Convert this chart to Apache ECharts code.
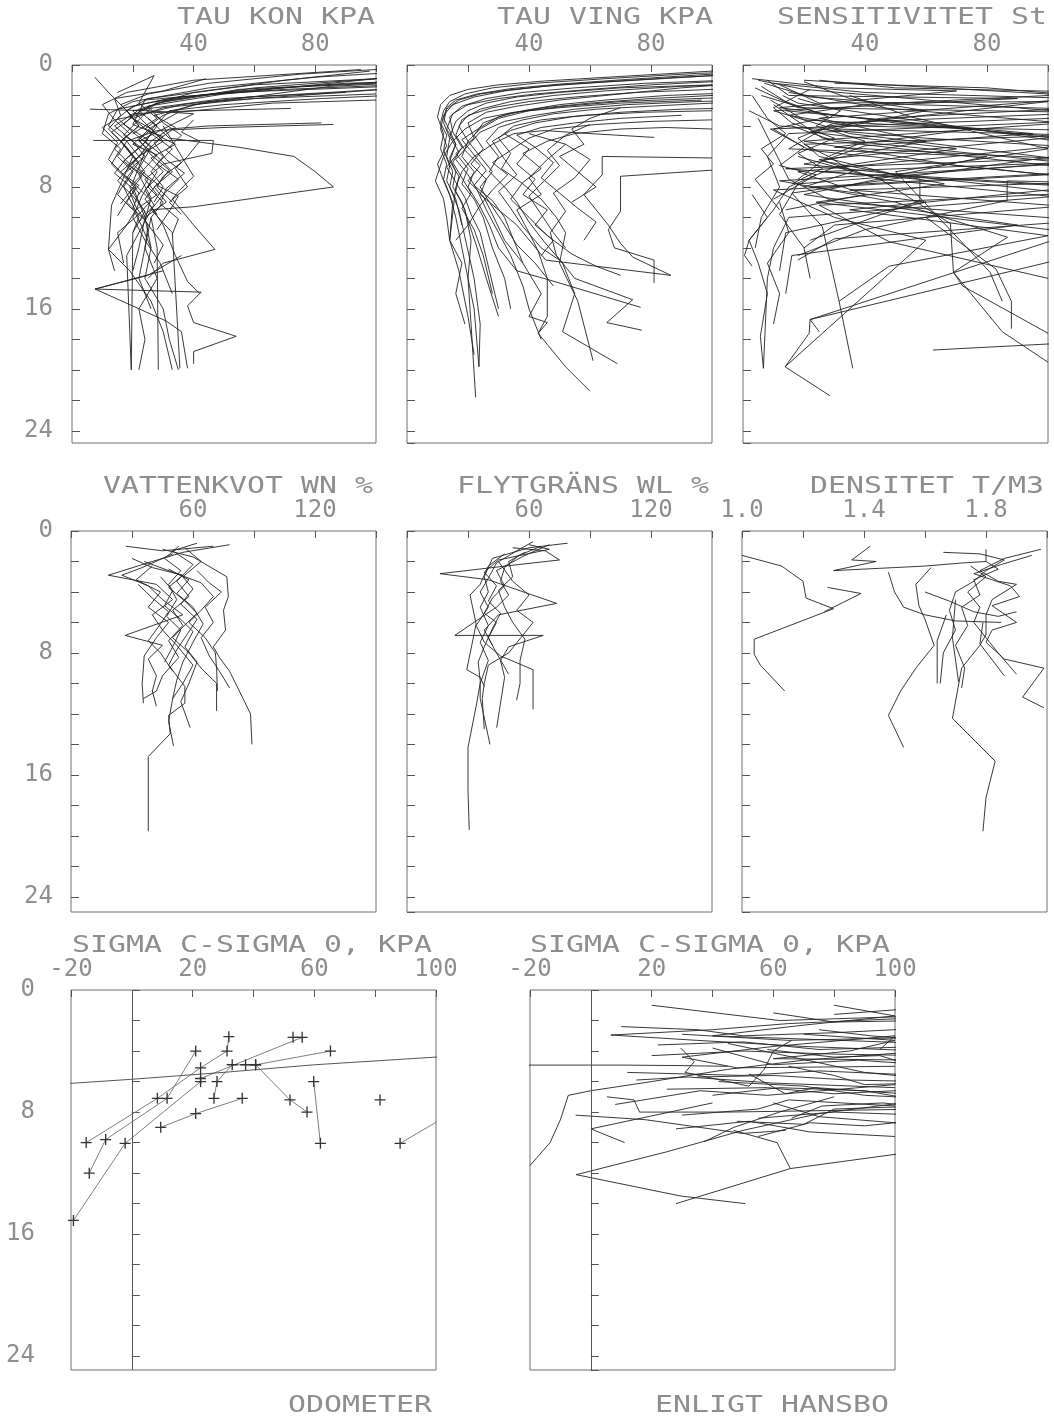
<!DOCTYPE html>
<html><head><meta charset="utf-8">
<script src="https://cdn.jsdelivr.net/npm/echarts@6/dist/echarts.min.js"></script>
<style>html,body{margin:0;padding:0;background:#fff}#c{width:1054px;height:1425px}</style>
</head><body><div id="c"></div>
<script>
// Each profile: flat list x,depth,x,depth,...
const tauKon = [
 [130,0.6, 60,1.3, 25,2.2, 18,3, 22,4, 16,5, 20,6, 24,7, 19,8, 22,9, 25,10],
 [125,0.9, 55,1.6, 30,2.4, 22,3, 28,4, 24,5, 30,6, 26,7, 30,8, 27,9],
 [120,1.2, 70,1.6, 35,2.1, 15,2.9, 12,4, 18,5, 15,6, 20,7, 17,8, 22,10, 20,11, 19.5,20],
 [110,1.5, 50,2.2, 20,3.0, 25,4.0, 30,5, 22,6, 28,7, 25,8, 30,9, 26,10, 28,12, 28.4,20],
 [105,0.5, 80,0.8, 45,1.5, 20,2.4, 12,3.2, 10,4.5, 16,5.5, 13,6.5, 18,7.5, 15,8.5, 20,9.5],
 [100,1.9, 60,2.2, 30,2.8, 20,3.5, 26,4.5, 33,5.5, 28,6.5, 35,7.5, 30,8.5, 26,9.5, 33,11, 35.5,19.9],
 [72,2.85, 40,3.0, 20,3.2, 14,4, 20,5, 24,6, 18,7],
 [86,3.9, 50,4.1, 28,4.3, 18,5, 22,6, 16,7, 21,8, 18,9, 23,10],
 [82,3.8, 45,4.0, 32,4.2, 26,5, 20,6.5, 25,7.5, 22,8.5],
 [7.5,0.8, 12,1.8, 18,3, 22,4, 16,5, 20,6],
 [15,1.8, 27,0.7, 22,2.5, 28,3.5, 20,4.5],
 [5.9,2.9, 25,3.0, 40,3.2, 32,4.0, 22,5, 28,6, 33,7, 27,8, 31,9, 24,10, 22,12, 20,13.5],
 [7,4.95, 46.5,4.95, 46,5.8, 30,6.5, 24,7.5, 28,8.5, 21,9.5, 18,10.5, 12,12.1, 14,13.5],
 [25,3.5, 32,4.8, 55,5.4, 73,6.0, 80,7.0, 86,8.0, 40,9.3, 26,9.5, 22,11, 18,12.5, 19.5,20],
 [30,4, 40,7.3, 35,8.3, 33,8.8, 40,10.5, 47,12.1, 30,13, 25,14],
 [20,6, 13,9.2, 12,12.1, 19,13.5, 26,15.5, 30,17.5, 33,20],
 [36,12.5, 25,13.8, 7.6,14.7, 42.5,14.9, 38,15.8, 40,16.9, 54,17.8, 40,18.8, 40,19.6],
 [30,13.5, 7.6,14.7, 31,16.8, 36,17.5, 38,19.9],
 [26,10, 24,12, 28,14, 22,16, 24,18, 22,20],
 [95,0.3, 40,1.0, 18,1.8, 10,2.6, 14,3.6, 19,4.5, 14,5.5, 19,6.5],
 [100,0.9, 50,1.9, 25,2.7, 30,3.8, 36,4.6, 31,5.6, 36,6.4, 30,7.3, 28,8, 33,9],
 [115,1.1, 85,1.4, 40,2.6, 30,3.3, 24,4.2, 34,5.2, 26,6.1, 30,7, 24,8.2, 27,9.2, 22,10.3],
 [100,2.3, 66,2.5, 35,3.1, 26,4.1, 20,5.2, 28,5.9, 22,7.2, 26,8.7, 24,10.2, 30,11.8, 27,13],
 [98,0.4, 70,1.0, 40,1.8, 22,2.9, 17,3.9, 25,4.9, 18,6.1, 14,7.1, 20,8.1, 16,9.1],
 [113,0.7, 60,1.5, 28,2.5, 19,3.4, 27,4.3, 23,5.3, 17,6.3, 23,7.3, 19,8.3, 21,9.3, 25,10.5, 24,12, 22,14, 26,16],
 [102,1.6, 75,2.0, 45,2.4, 27,3.3, 34,4.1, 27,5.1, 31,6.2, 37,7.1, 31,8.1, 29,9.1, 35,10.1, 33,11.1],
 [44,0.9, 30,1.7, 14,2.2, 16,3.3, 12,4.2, 17,5.2, 21,6.2, 15,7.6, 20,8.6, 24,9.6, 20,11],
 [118,1.3, 52,1.8, 24,2.3, 20,3.9, 30,4.7, 24,5.7, 20,7.7, 26,8.9, 22,9.8, 15,11, 17,13],
 [20,8, 24,10, 26,12, 24,14, 30,16, 32,18, 35,20],
 [25,9, 30,10.5, 34,12.5, 38,14.2, 42,15],
 [108,0.2, 75,0.6, 45,1.2, 25,1.9, 16,2.6, 20,3.4, 13,4.4, 18,5.4, 22,6.4, 18,7.4, 22,8.4, 20,9.4, 23,10.6, 26,12],
 [122,1.0, 90,1.2, 55,1.7, 32,2.2, 20,2.7, 15,3.5, 20,4.4, 26,5.4, 22,6.8, 28,7.8, 24,8.8, 28,9.8],
 [100,1.2, 68,1.5, 42,2.0, 28,2.4, 22,3.6, 17,4.6, 24,5.6, 19,6.6, 26,7.6, 23,8.6, 20,10, 24,11.5, 29,13, 33,15],
 [104,2.0, 82,2.2, 50,2.6, 32,3.0, 28,3.9, 22,4.9, 26,5.9, 32,6.9, 28,7.9, 35,8.6, 32,9.6, 28,10.8],
 [90,1.8, 58,2.1, 36,2.6, 24,3.2, 14,3.6, 10,4.1, 15,5.1, 12,6.2, 17,7.2, 22,7.9, 18,8.9, 15,9.9],
 [40,3.6, 36,4.4, 42,5.0, 38,6.0, 34,6.8, 38,8.0, 32,9.0, 36,9.8]
];
const tauVing = [
 [140,0.2, 100,0.4, 70,0.75, 45,1.05, 30,1.3, 20,1.6, 14,2.0, 11,2.6, 10,3.4, 12,4.5, 11,5.5, 13,6.5, 12,7.5, 14,8.5, 16,10, 18,12, 20,14, 22,16, 23.6,19.8],
 [140,0.5, 100,0.7, 75,1.0, 50,1.3, 35,1.6, 24,1.9, 17,2.3, 13,2.9, 12,3.8, 14,4.8, 13,6, 15,7, 14,8, 17,9.5, 19,11.3, 22,14, 24,17, 23.6,19.8],
 [140,0.9, 100,1.1, 80,1.3, 60,1.6, 42,1.9, 30,2.2, 20,2.6, 15,3.2, 13,4.2, 16,5.2, 14,6.3, 17,7.3, 16,8.3, 19,9.5, 21,11.5, 20,14, 21,17, 22.5,21.8],
 [130,1.4, 100,1.6, 75,1.8, 55,2.1, 40,2.4, 28,2.8, 20,3.3, 17,4.0, 20,5, 18,6, 22,7, 20,8, 24,9.3, 27,10.5, 30,12, 36,13.5, 46.6,14.1, 76.6,15.9],
 [130,1.8, 100,2.0, 80,2.2, 60,2.5, 45,2.8, 33,3.2, 25,3.8, 22,4.6, 25,5.5, 21,6.5, 26,7.5, 24,8.5, 30,9.5, 36,10.5, 45.5,12.8, 86.5,13.8],
 [120,2.4, 100,2.5, 80,2.7, 62,2.9, 48,3.2, 38,3.6, 30,4.1, 26,5, 30,6, 27,7, 32,8, 36,9, 40,10.3, 45,11.6, 51,13, 55,15, 51,17.5, 69,19.6],
 [100,3.0, 78,3.1, 58,3.3, 44,3.6, 35,4.0, 30,4.8, 34,5.8, 31,6.8, 38,7.8, 44,8.8, 49,10, 52,11, 50,13, 56,15.5, 61,19.4],
 [96.6,2.3, 70,2.5, 50,2.8, 35,3.1, 25,3.5, 19,4.2, 15,5, 12,6, 9.3,7.6, 12,8.8, 13,10, 14,11.5, 17,13.5, 20,16.5, 22,19],
 [81,4.75, 60,4.5, 45,4.3, 35,4.5, 28,5.2, 22,6, 18,7, 16,8, 14,11.5, 18,13, 16,15, 19,17],
 [100,6.1, 64,6.0, 64,7.2, 58,8.5, 66,10.5, 70,11.7, 74,12.6, 86.5,13.8],
 [100,6.9, 70,7.3, 70,9.6, 66,10.8, 68,12.0, 81,12.8, 81,14.3],
 [52,5.2, 46,6.2, 40,7.4, 44,8.5, 36,9.5, 40,11, 43,12.2, 46,14, 46,16.5, 43,17.6, 52,19.8, 60,21.4],
 [40,4.5, 52,5.2, 60,6.2, 55,7.4, 48,8.4, 52,9.6, 47,11, 49,12.5, 55,14, 74,15.4, 65.5,16.9, 77,17.4],
 [150,1.0, 110,1.2, 90,1.5, 70,1.9, 50,2.3, 36,2.7, 26,3.1, 20,3.8, 22,4.8, 16,5.8, 20,6.8, 18,7.8, 22,8.8, 25,10, 28,12, 32,14, 34,16],
 [145,1.6, 110,1.8, 85,2.0, 65,2.3, 50,2.6, 38,3.0, 30,3.4, 24,4.1, 18,4.9, 22,5.9, 26,6.9, 22,7.9, 28,8.9, 32,10, 35,11.5, 38,13, 44,15, 40,16.5, 46,16.9, 43,17.6],
 [100,3.6, 80,3.7, 62,3.9, 48,4.2, 40,4.8, 34,5.6, 28,6.4, 33,7.2, 28,8.2, 24,9.2, 20,10.5, 16,11.5],
 [110,0.6, 90,0.8, 65,1.1, 45,1.4, 32,1.7, 22,2.1, 15,2.6, 12,3.3, 11,4.2, 13,5.3, 10,6.5, 12,7.6, 15,9, 14,11.5],
 [90,3.3, 70,3.5, 55,3.8, 44,4.1, 36,4.6, 42,5.4, 48,6.4, 44,7.4, 50,8.4, 56,9.4, 62,10.3, 58,11.5],
 [125,2.2, 95,2.4, 72,2.6, 55,2.9, 42,3.3, 32,3.7, 24,4.4, 20,5.3, 16,6.2, 20,7.2, 23,8.2, 26,9.5, 30,11, 34,12.5, 38,14.5, 40,16, 44,18],
 [100,4.2, 85,4.1, 70,4.2, 55,4.5, 46,5.0, 38,5.8, 44,6.8, 38,7.7, 34,8.8, 40,10, 46,11.2, 54,12.4, 62,13.2, 70,13.8],
 [135,0.3, 95,0.55, 65,0.9, 42,1.2, 28,1.5, 19,1.9, 14,2.4, 12,3.0, 11,3.8, 13,4.6, 12,5.6, 14,6.6, 13,7.6, 16,8.8, 18,10.5],
 [150,0.8, 105,1.0, 78,1.2, 55,1.5, 38,1.8, 26,2.2, 18,2.7, 14,3.4, 15,4.4, 18,5.4, 15,6.4, 18,7.4, 21,8.4, 18,9.4, 22,10.8, 25,12.5, 28,15],
 [120,1.2, 90,1.4, 65,1.7, 48,2.0, 34,2.4, 24,2.9, 18,3.6, 16,4.6, 19,5.6, 24,6.6, 20,7.6, 25,8.6, 28,9.8, 32,11.5, 38,13],
 [100,1.3, 70,1.5, 50,1.8, 36,2.1, 26,2.5, 20,3.0, 16,3.7, 14,4.7, 17,5.7, 13,6.7, 16,7.7, 19,8.7, 21,9.8, 24,11, 27,13.5, 30,16],
 [128,2.0, 95,2.2, 70,2.4, 52,2.7, 40,3.0, 30,3.5, 24,4.2, 20,5.0, 24,6.0, 28,7.0, 24,8.0, 27,9.0, 31,10.2, 36,11.8, 42,13, 48,14.5],
 [112,2.8, 90,2.9, 70,3.1, 54,3.4, 42,3.8, 34,4.3, 28,5.0, 32,6.2, 36,7.2, 30,8.3, 34,9.4, 38,10.6, 44,12, 50,12.8],
 [138,0.4, 100,0.6, 72,0.95, 50,1.25, 34,1.55, 23,1.9, 16,2.3, 13,2.8, 12,3.5, 14,4.3, 16,5.2, 14,6.1, 16,7.0, 15,8.0, 18,9.0, 20,10.2, 23,12, 26,14, 30,16.5],
 [60,3.9, 52,4.6, 46,5.6, 50,6.6, 45,7.6, 40,8.6, 44,9.8, 48,11, 52,12],
 [32,4.5, 40,5.5, 36,6.5, 42,7.5, 38,8.5, 46,9.5, 42,10.5, 48,11.5, 44,12.5],
 [70,2.8, 60,3.5, 54,4.2, 58,5.2, 50,6.0, 56,7.0, 62,8.0, 54,9.0]
];
const sensitivitet = [
 [5,1.0, 20,1.6, 130,3.5, 15,4.5, 8,6, 12,8, 6,10, 4,12],
 [10,1.2, 40,1.8, 110,2.2, 25,3.5, 60,5.0, 20,6.5, 110,8.5, 15,10, 10,12, 8,14, 6.7,19.9],
 [3,0.9, 30,1.5, 70,1.7, 12,2.8, 50,3.8, 120,5.0, 18,7, 40,8.5, 14,9.5],
 [8,1.0, 15,2.0, 90,2.2, 10,3.0, 35,4.5, 130,6.8, 22,8.0, 60,9.0, 14,11, 12,13.5],
 [12,1.3, 25,2.5, 100,2.4, 28,4.0, 15,5.5, 80,6.0, 20,8.5, 90,10.5, 16,12.5, 14,15],
 [4,1.5, 18,2.8, 140,3.2, 9,4.2, 22,5.6, 100,7.2, 10,8.2, 30,10, 60,11.5, 13.8,19.8, 28.5,21.7],
 [20,1.1, 35,2.2, 60,3.0, 30,4.2, 110,4.6, 25,6.2, 45,7.5, 120,9.0, 30,10.5, 20,12],
 [6,2.0, 26,3.2, 150,5.8, 14,6.8, 58,7.5, 58,8.9, 40,10.2, 22,11.5],
 [15,1.8, 45,2.8, 105,3.8, 20,5.0, 70,6.6, 130,7.8, 86.6,7.6, 86.6,8.9, 40,10.8, 18,12.5],
 [2,3.0, 12,4.0, 60,4.8, 160,6.0, 25,7.0, 110,8.0, 35,9.5, 100,11.2, 47.9,13.2, 31.5,15.5, 36,19.9],
 [9,2.3, 20,3.6, 75,4.2, 30,5.4, 120,6.3, 12,7.6, 50,9.0, 86.7,11.3, 69,13.6, 85,17.5, 100,19.5],
 [25,1.0, 50,1.5, 120,1.8, 40,2.6, 15,3.3, 35,4.0, 140,4.4, 20,5.2, 28,6.0, 18,7.5],
 [30,1.2, 80,1.5, 140,2.5, 45,3.5, 22,4.4, 70,5.5, 30,6.7, 15,8.0, 10,9.5, 2,11.5, 0.5,12.5, 3,13.2],
 [14,3.0, 40,3.5, 95,4.5, 40,5.3, 26,6.3, 66,7.8, 24,9.0, 130,11.5, 22,16.7, 21.7,17.6, 13.8,19.8],
 [5,3.5, 10,5.5, 15,7.5, 30,9.0, 120,10.3, 22,16.7, 25,17.5],
 [18,6, 45,7.5, 68,10.4, 69,13.6, 72,14.5, 100,17.6],
 [35,2.0, 55,3.4, 100,5.5, 50,7.0, 81,13.6, 85,15.5],
 [60,10, 83,13.4, 88,15.5, 88,17.3],
 [62.3,18.7, 110,18.2],
 [3,8.5, 8,10, 2,11.5, 5,13.0, 8,15.0, 5.7,17.8, 6.7,19.9],
 [12,9, 15,11, 8,13, 12,15, 10,17],
 [13,2.0, 18,2.5, 120,5.5, 16,8.4, 26,10.6, 31.5,15.5],
 [7,1.2, 22,2.1, 55,2.6, 130,3.0, 30,3.8, 18,4.8, 25,6, 50,7.2, 130,8.2, 25,9.2, 48,11.6, 100,14.0],
 [20,1.0, 100,1.9, 130,2.1],
 [10,2.6, 26,4.8, 105,6.4, 18,7.8, 12,9.8, 20,12, 22,14],
 [16,4, 30,5.0, 140,7.5, 35,8.2, 140,9.8, 30,11.4, 18,12.8],
 [3,2.0, 8,3.5, 14,4.5, 6,5.5, 10,6.5, 4,7.5, 8,8.5, 12,9.5],
 [18,2.2, 32,3.0, 24,4.0, 40,5.0, 28,6.0, 36,7.0, 20,8.0],
 [6,1.4, 14,2.4, 28,3.4, 10,4.2, 20,5.4, 12,6.6, 24,7.2, 10,8.8],
 [22,1.6, 10,2.8, 16,3.8, 30,4.8, 18,5.8, 26,6.8, 16,7.8]
];
const vattenkvot = [
 [62,0.8, 50,1.3, 60,2.2, 52,3.3, 58,4.3, 50,5.2, 55,6.2, 48,7.2, 53,8.3, 45,9.5, 42,10.5, 35.6,11.0],
 [78,0.9, 55,1.4, 40,2.0, 18.4,2.9, 42,3.5, 50,4.5, 40,5.5, 45,6.5, 52,7.5, 60,8.8, 55,10, 50,11],
 [45,1.2, 60,1.7, 76.6,3.0, 77.4,4.3, 75,5.2, 76,6.5, 70,7.6, 73,8.3, 78,9.2, 88.3,12, 89,14],
 [30,1.8, 40,2.4, 55,2.9, 48,3.7, 56,4.6, 62,5.4, 55,6.3, 50,7.0, 58,8.0, 64,9, 71.6,10, 71.6,11.8],
 [50,1.5, 35,2.4, 25,2.9, 38,3.6, 45,4.5, 55,5.5, 26.6,6.85, 45,7.5, 38,8.4, 42,9.5, 40,10.5, 42,11.5],
 [36,2.0, 50,2.7, 64,3.4, 70,4.3, 64,5.2, 58,6.0, 66,7.0, 71,8.0, 71.6,9, 72,10.5],
 [56,1.1, 64,2.0, 55,3.0, 60,3.8, 54,4.8, 62,5.8, 57,6.8, 52,7.8, 48,8.8, 56,10.2, 56,11.3, 48,12.1, 48.8,13.3, 38,14.8, 38,19.7],
 [40,2.3, 32,3.2, 44,4.0, 38,5.0, 48,6.0, 42,7.0, 36,8.2, 35.6,9.0, 35,10.0, 35.6,11.3],
 [48,2.5, 58,3.2, 52,4.1, 60,5.0, 65,6.1, 60,7.3, 55,8.6, 52,9.8, 50,11, 48,12.5, 50.4,14.1],
 [44,3.0, 50,3.9, 46,4.9, 54,5.8, 60,6.6, 56,7.6, 62,8.6, 58,10, 54,11.2, 58.6,12.9],
 [33,3.5, 40,4.4, 48,5.3, 44,6.1, 38,7.2, 44,8.0, 50,9.2],
 [62,2.6, 68,3.4, 74,4.0, 66,5.0, 70,6.0, 64,7.0, 68,8.2, 73,9.2, 78,10.3],
 [53,1.0, 46,1.8, 54,2.6, 48,3.5, 52,4.5, 47,5.6, 54,6.5, 50,7.6, 46,8.6],
 [27,1.0, 45,1.3, 70,1.0]
];
const flytgrans = [
 [79,0.8, 60,1.1, 42,1.8, 38,3.0, 40,4.0, 36,5.0, 40,6.2, 36,7.3, 40,8.5, 36,10, 34,11.5, 30,14.2, 30,17, 30.6,19.6],
 [52,1.1, 68,1.3, 75,1.9, 55,2.2, 16.2,2.8, 40,3.2, 73.6,4.75, 45,5.5, 38,6.5, 42,7.5],
 [60,0.9, 70,1.2, 45,1.9, 38,2.7, 44,3.6, 40,4.6, 46,5.4, 42,6.4, 38,7.6, 35,8.6, 36,9.8, 36,11, 40.8,14],
 [66,1.0, 55,1.6, 48,2.4, 46,3.3, 50,4.2, 44,5.0, 23.5,6.85, 67,6.85, 50,7.6, 46,8.5, 48,9.6, 44.1,12.9],
 [48,1.5, 40,2.3, 36,3.5, 31,4.2, 34,6.1, 29.4,9.1, 36,9.6, 38,10.2],
 [58,1.4, 50,2.0, 52,3.0, 45,3.9, 48,5.0, 52,6.0, 58,7.1, 55.6,8.5, 55.6,10, 53.9,11.1],
 [62,0.7, 54,1.3, 44,2.1, 40,3.1, 36,4.0, 40,5.0, 34,6.2, 38,7.3, 46,8.2, 62,9.1, 62,11.7],
 [45,2.0, 52,3.3, 60,4.2, 54,5.2, 62,6.0, 56,7.0, 50,8.0, 40,8.8, 38,10.0, 37,11.0, 38,13.0],
 [70,0.9, 58,1.6, 44,2.6, 48,3.6, 42,4.4, 38,5.4, 44,6.0, 40,7.0, 44,8.0, 50,9.4]
];
const densitet = [
 [1.0,1.6, 1.13,2.3, 1.2,3.3, 1.21,4.4, 1.3,5.1, 1.04,7.1, 1.04,8.1, 1.06,8.8, 1.14,10.5],
 [1.28,3.7, 1.39,4.1, 1.33,4.7, 1.27,5.3],
 [1.42,1.0, 1.36,1.9, 1.44,2.0, 1.3,2.6, 1.5,2.4, 1.6,2.3, 1.72,2.1, 1.8,2.0],
 [1.48,2.7, 1.5,4.0, 1.53,5.0, 1.6,5.5, 1.7,5.9, 1.85,6.0],
 [1.62,2.4, 1.57,3.5, 1.58,4.9, 1.6,5.8, 1.63,7.5, 1.57,9.0, 1.52,10.5, 1.48,12.1, 1.53,14.2],
 [1.66,1.4, 1.78,1.5, 1.86,1.9, 1.8,2.6, 1.76,3.3, 1.7,4.0, 1.68,5.2, 1.7,6.5, 1.66,8.0, 1.65,10.0],
 [1.8,1.2, 1.8,2.0, 1.84,2.5, 1.76,3.2, 1.78,4.2, 1.72,5.0, 1.74,6.2, 1.7,7.5, 1.73,9.0, 1.72,10.3],
 [1.98,1.2, 1.86,1.8, 1.78,2.6, 1.84,3.3, 1.9,3.5, 1.82,4.5, 1.8,5.5, 1.8,6.8, 1.78,7.5, 1.72,9.0, 1.69,12.3, 1.83,15.1, 1.8,17.5, 1.79,19.7],
 [1.95,1.6, 1.85,2.2, 1.76,2.8, 1.88,3.6, 1.91,4.3, 1.82,4.9, 1.9,6.0, 1.82,6.5, 1.8,7.3, 1.86,8.4, 1.99,9.0, 1.92,10.9, 1.99,11.6],
 [1.75,2.3, 1.8,3.0, 1.74,4.0, 1.78,5.0, 1.76,6.0, 1.8,7.0, 1.84,8.0, 1.9,9.4],
 [1.6,4.0, 1.68,4.6, 1.76,5.3, 1.84,5.6, 1.9,5.3],
 [1.7,4.5, 1.69,7.0, 1.71,9.9],
 [1.67,5.5, 1.64,7.2, 1.64,10.0],
 [1.79,6.0, 1.78,7.4, 1.86,9.5]
];
const odometer = [
 [53,3.1, 56,3.1, 22.6,5.8],
 [65.3,4.0, 40.7,4.9, 37.4,4.9, 33,4.9, 28,6.0, 27,7.1],
 [40.7,4.9, 52,7.2, 57.6,8.0],
 [31.9,3.06, 31.3,4.0, 22.6,5.1, 8.4,7.1, -15,10.0],
 [21,4.0, 11.6,7.1, -8.6,9.8, -14,12.0],
 [22.6,6.0, -2.2,10.05, -19.2,15.1],
 [36.3,7.1, 21,8.1, 9.5,9.0],
 [59.8,6.0, 62,10.05],
 [81.6,7.2],
 [88.2,10.05, 110,7.5]
];
const odometerTrend = [-30,6.25, 0,5.85, 30,5.4, 60,4.9, 99.7,4.4, 110,4.25];
const hansbo = [
 [-25,4.92, 10,4.92, 28,4.95, 45,5.0],
 [-20,11.5, -13.4,10, -10,8.5, -7.4,6.9, 0,6.6, 20,6.0, 45,5.2, 70,4.6, 110,4.0],
 [6.6,2.95, 40,2.6, 65,2.2, 110,1.8],
 [6.6,2.95, 35,3.3, 70,3.7, 110,4.0],
 [40,7.4, 0,9.1, 11.1,10.0],
 [-4.8,12.1, 29.5,13.5, 50.8,14.0],
 [-4.8,12.1, 25,10.6, 50,9.2, 75,8.1, 110,7.2],
 [28,14.0, 65.6,11.7, 110,10.5],
 [37.2,9.95, 47,9.0, 62,8.0, 80,7.0],
 [47,9.2, 61.2,10.0, 65.6,11.7],
 [5.3,7.0, 14.2,7.2, 16,8.0, 45,8.0, 110,7.8],
 [20,1.0, 62,2.0, 110,1.7],
 [80,1.0, 100,1.7, 70,2.3, 40,3.0, 110,3.5],
 [30,2.9, 65,3.3, 110,3.1],
 [20,4.3, 50,4.0, 80,4.2, 110,4.3],
 [40,3.8, 60,4.9, 88,4.6, 110,4.9],
 [12,5.4, 50,5.6, 75,5.3, 110,5.6],
 [25,6.5, 58,6.4, 80,6.8, 110,6.5],
 [29.5,3.8, 34,4.7, 31,5.4, 52,6.3, 57,5.2, 60,4.0, 66,3.3],
 [8,7.5, 36,6.6, 58,6.9, 100,6.2],
 [60,7.4, 75,8.3, 100,8.7, 110,9.2],
 [55,9.6, 72,8.7, 90,8.9, 110,8.5],
 [52,5.5, 64,6.8, 74,6.4, 110,6.9],
 [45,3.5, 90,5.4, 110,5.8],
 [30,8.2, 55,7.8, 65,7.2, 100,7.6],
 [80,1.6, 100,1.3, 110,1.4],
 [55,8.4, 80,8.0, 110,8.2],
 [95,3.9, 100,3.0, 60,3.7, 30,4.4, 48,5.1, 100,5.0],
 [60,1.5, 80,2.1, 110,2.0],
 [10,2.4, 35,2.6, 50,3.0, 80,2.8, 110,2.5],
 [22,3.6, 50,3.4, 75,3.9, 110,3.7],
 [70,2.9, 100,3.3, 85,4.0, 60,4.5, 110,4.6],
 [35,5.7, 60,5.6, 85,5.9, 110,6.0],
 [40,6.9, 62,6.4, 90,6.6, 110,7.3],
 [15,5.9, 32,5.7, 60,6.1, 100,6.4],
 [48,8.6, 70,8.8, 80,7.8, 110,7.6],
 [-5,8.2, 18,8.5, 50,9.4, 64,9.2],
 [65,5.0, 80,5.6, 90,6.2, 110,6.1],
 [42,6.0, 70,6.3, 90,6.9, 110,7.1],
 [66,8.4, 76,7.6, 96,7.4, 110,7.7],
 [28,9.1, 52,8.6, 72,9.3, 100,9.6],
 [58,3.9, 80,4.4, 95,4.3, 110,5.2],
 [75,2.6, 92,3.0, 110,3.3]
];
const titles = ['TAU KON KPA','TAU VING KPA','SENSITIVITET St','VATTENKVOT WN %','FLYTGRÄNS WL %','DENSITET T/M3','SIGMA C-SIGMA 0, KPA','SIGMA C-SIGMA 0, KPA'];
const footers = ['ODOMETER','ENLIGT HANSBO'];

const FONT = '"DejaVu Sans Mono", monospace';
const TXT = '#8e8e8e';
const INK = '#222';
const pairs = a => { const r = []; for (let i = 0; i < a.length; i += 2) r.push([a[i], a[i+1]]); return r; };
const cross = 'path://M4.4,0H5.6V4.4H10V5.6H5.6V10H4.4V5.6H0V4.4H4.4Z';

const panels = [
 {prof: tauKon, grid:{left:72, top:65, width:304, height:378}, x:[0,100,20], ymax:24.8, xl:v=>(v===40||v===80)?String(v):'', ylab:19},
 {prof: tauVing, grid:{left:407, top:65, width:305, height:378}, x:[0,100,20], ymax:24.8, xl:v=>(v===40||v===80)?String(v):''},
 {prof: sensitivitet, grid:{left:743, top:65, width:305, height:378}, x:[0,100,20], ymax:24.8, xl:v=>(v===40||v===80)?String(v):''},
 {prof: vattenkvot, grid:{left:71, top:531, width:305, height:381}, x:[0,150,30], ymax:25, xl:v=>(v===60||v===120)?String(v):'', ylab:18},
 {prof: flytgrans, grid:{left:407, top:531, width:305, height:381}, x:[0,150,30], ymax:25, xl:v=>(v===60||v===120)?String(v):''},
 {prof: densitet, grid:{left:742, top:531, width:305, height:381}, x:[1.0,2.0,0.2], ymax:25, xl:v=>{const k=Math.round((v-1)/0.2);return k%2===0&&k<5?(1+k*0.2).toFixed(1):'';}},
 {prof: odometer, grid:{left:71, top:990, width:365, height:380}, x:[-20,100,20], ymax:24.9, xl:v=>((v+20)%40===0)?String(v):'', ylab:36, zero:true, marks:true},
 {prof: hansbo, grid:{left:530, top:990, width:365, height:380}, x:[-20,100,20], ymax:24.9, xl:v=>((v+20)%40===0)?String(v):'', zero:true}
];

const grid = [], xAxis = [], yAxis = [], series = [];
panels.forEach((p, i) => {
  grid.push(Object.assign({show:true, borderColor:'#707070', borderWidth:1, backgroundColor:'transparent'}, p.grid));
  xAxis.push({gridIndex:i, type:'value', position:'top', min:p.x[0], max:p.x[1], interval:p.x[2],
    axisLine:{show:false}, splitLine:{show:false},
    axisTick:{show:true, inside:true, length:7, lineStyle:{color:'#555', width:1}},
    axisLabel:{show:true, interval:0, showMinLabel:true, showMaxLabel:true, margin:8, formatter:p.xl,
      fontFamily:FONT, fontSize:24, color:TXT, textBorderColor:'#fff', textBorderWidth:1.2}});
  yAxis.push({gridIndex:i, type:'value', inverse:true, min:0, max:p.ymax, interval:2,
    axisLine:{show:false}, splitLine:{show:false},
    axisTick:{show:true, inside:true, length:8, lineStyle:{color:'#555', width:1}},
    axisLabel:{show:!!p.ylab, interval:0, showMinLabel:true, showMaxLabel:false, margin: p.ylab || 8,
      formatter: v => (v % 8 === 0) ? String(v) : '',
      fontFamily:FONT, fontSize:24, color:TXT, textBorderColor:'#fff', textBorderWidth:1.2}});
  p.prof.forEach((prof, j) => {
    const s = {type:'line', xAxisIndex:i, yAxisIndex:i, data:pairs(prof), clip:true, silent:true, animation:false,
      symbol: p.marks ? cross : 'none', symbolSize: p.marks ? 11 : 0, showSymbol: !!p.marks,
      itemStyle:{color:'#333'},
      lineStyle:{color: p.marks ? '#808080' : INK, width: p.marks ? 1 : 0.9}};
    if (p.zero && j === 0) {
      s.markLine = {silent:true, symbol:'none', animation:false, label:{show:false},
        lineStyle:{color:'#555', type:'solid', width:1}, data:[{xAxis:0}]};
    }
    series.push(s);
  });
  if (p.marks) {
    series.push({type:'line', xAxisIndex:i, yAxisIndex:i, data:pairs(odometerTrend), clip:true, silent:true,
      animation:false, symbol:'none', lineStyle:{color:'#555', width:1}});
  }
});

const titlePos = [[177,18],[497,18],[777,18],[103,487],[457,487],[810,487],[72,946],[530,946]];
const footPos = [[288,1406],[655,1406]];
const mkText = (t, pos) => ({type:'text', x:pos[0], y:pos[1], scaleX:1.3, silent:true,
  style:{text:t, font:'23px ' + FONT, fill:TXT, stroke:'#fff', lineWidth:1.2,
    align:'left', verticalAlign:'middle', textAlign:'left', textVerticalAlign:'middle'}});
const graphic = titles.map((t, k) => mkText(t, titlePos[k])).concat(footers.map((t, k) => mkText(t, footPos[k])));

const chart = echarts.init(document.getElementById('c'), null, {renderer:'canvas'});
chart.setOption({animation:false, backgroundColor:'#fff', grid, xAxis, yAxis, series, graphic});
</script>
</body></html>
